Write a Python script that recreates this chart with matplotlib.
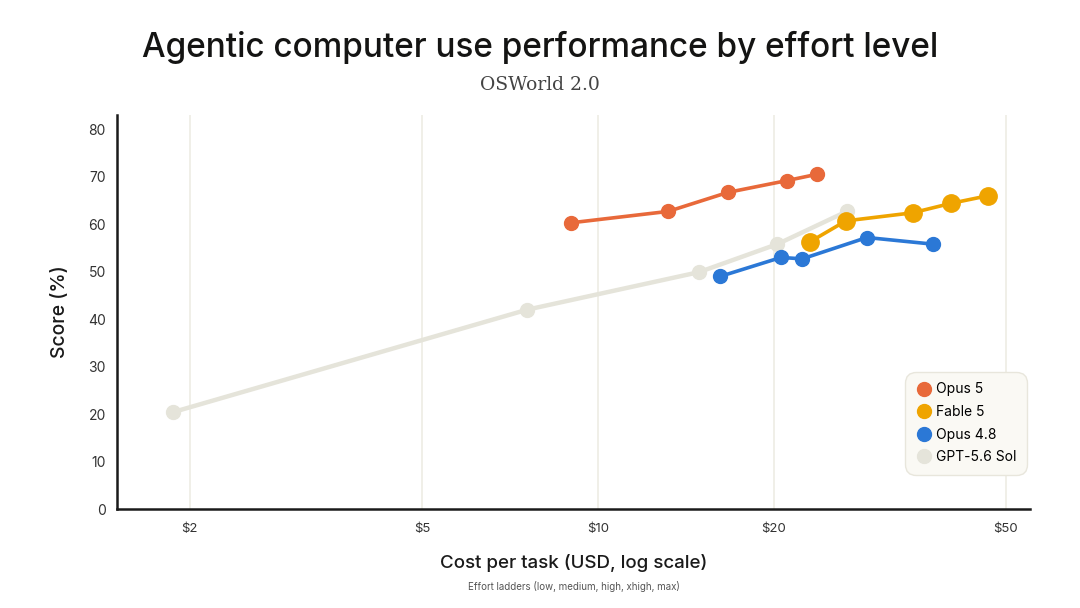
import matplotlib
matplotlib.use("Agg")
import matplotlib.pyplot as plt
from matplotlib.lines import Line2D

plt.rcParams['font.family'] = ['Inter', 'DejaVu Sans']

# --------------------
# DATA (cost in USD, score in %)
# --------------------
opus5_cost = [9.0, 13.2, 16.7, 21.1, 23.7]
opus5_score = [60.3, 62.7, 66.7, 69.2, 70.5]

fable5_cost = [23.1, 26.6, 34.6, 40.3, 46.6]
fable5_score = [56.3, 60.7, 62.4, 64.4, 66.0]

opus48_cost = [16.2, 20.6, 22.4, 28.9, 37.5]
opus48_score = [49.0, 53.0, 52.7, 57.2, 55.8]

gpt_cost = [1.87, 7.57, 14.9, 20.3, 26.7]
gpt_score = [20.4, 42.0, 49.9, 55.8, 62.7]

xticks = [2, 5, 10, 20, 50]
xtick_labels = ["$2", "$5", "$10", "$20", "$50"]
yticks = [0, 10, 20, 30, 40, 50, 60, 70, 80]

ORANGE = "#E8693A"
AMBER = "#EFA400"
BLUE = "#2B78D6"
GREY = "#E5E4DA"

fig = plt.figure(figsize=(10.8, 6.08), dpi=100)
ax = fig.add_axes([0.1083, 0.1628, 0.8454, 0.648])

# grey line first so the others sit on top
ax.plot(gpt_cost, gpt_score, color=GREY, lw=3.2, marker="o", ms=10, zorder=2)
ax.plot(opus48_cost, opus48_score, color=BLUE, lw=2.6, marker="o", ms=10, zorder=3)
ax.plot(opus5_cost, opus5_score, color=ORANGE, lw=2.6, marker="o", ms=10, zorder=4)
ax.plot(fable5_cost, fable5_score, color=AMBER, lw=2.6, marker="o", ms=12.5, zorder=5)

ax.set_xscale("log")
ax.set_xlim(1.5, 55)
ax.set_ylim(0, 83)
ax.set_xticks(xticks)
ax.set_xticklabels(xtick_labels)
ax.minorticks_off()
ax.set_yticks(yticks)
ax.tick_params(axis="both", length=0, labelsize=10, colors="#333333", pad=8)
ax.tick_params(axis="x", pad=10, labelsize=9.5)

for x in xticks:
    ax.axvline(x, color="#ECEBE1", lw=1.1, zorder=0)

for s in ["top", "right"]:
    ax.spines[s].set_visible(False)
for s in ["left", "bottom"]:
    ax.spines[s].set_linewidth(1.8)
    ax.spines[s].set_color("#1a1a1a")

ax.set_ylabel("Score (%)", fontsize=14, color="#1a1a1a", labelpad=14, weight="medium")

fig.text(0.5, 0.922, "Agentic computer use performance by effort level",
         ha="center", va="center", fontsize=24, color="#141413", weight="medium")
fig.text(0.5, 0.86, "OSWorld 2.0", ha="center", va="center",
         fontsize=13.5, color="#444444", family="DejaVu Serif")
xc = 0.1083 + 0.8454 / 2
fig.text(xc, 0.074, "Cost per task (USD, log scale)", ha="center", va="center",
         fontsize=13.5, color="#1a1a1a", weight="medium")
fig.text(xc, 0.036, "Effort ladders (low, medium, high, xhigh, max)", ha="center",
         va="center", fontsize=7, color="#555555")

handles = [
    Line2D([], [], ls="", marker="o", ms=10, color=ORANGE, label="Opus 5"),
    Line2D([], [], ls="", marker="o", ms=10, color=AMBER, label="Fable 5"),
    Line2D([], [], ls="", marker="o", ms=10, color=BLUE, label="Opus 4.8"),
    Line2D([], [], ls="", marker="o", ms=10, color=GREY, label="GPT-5.6 Sol"),
]
leg = ax.legend(handles=handles, loc="lower right", bbox_to_anchor=(1.0, 0.08),
                fontsize=10, frameon=True, fancybox=True, handletextpad=0.3,
                handlelength=1.2, borderpad=0.75, labelspacing=0.62,
                borderaxespad=0.2)
frame = leg.get_frame()
frame.set_facecolor("#FAF9F4")
frame.set_edgecolor("#E8E6DC")
frame.set_alpha(1)
frame.set_boxstyle("round,pad=0,rounding_size=0.8")

fig.savefig("out.png", dpi=100, facecolor="white")
